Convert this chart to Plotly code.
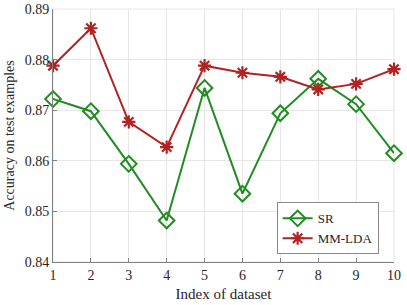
import plotly.graph_objects as go

x_idx = [1, 2, 3, 4, 5, 6, 7, 8, 9, 10]
sr_vals = [0.8722, 0.8698, 0.8594, 0.8482, 0.8744, 0.8535, 0.8694, 0.8762, 0.8712, 0.8615]
mmlda_vals = [0.8788, 0.8862, 0.8677, 0.8627, 0.8788, 0.8774, 0.8766, 0.8741, 0.8752, 0.8781]
y_ticks = [0.84, 0.85, 0.86, 0.87, 0.88, 0.89]

green = "#228B22"
red = "#B22222"
font_family = "Liberation Serif"

fig = go.Figure()
fig.add_trace(go.Scatter(
    x=x_idx, y=sr_vals, mode="lines+markers", name="SR",
    line=dict(color=green, width=2),
    marker=dict(symbol="diamond-open", size=12, color=green, line=dict(width=2, color=green)),
    cliponaxis=False,
))
fig.add_trace(go.Scatter(
    x=x_idx, y=mmlda_vals, mode="lines+markers", name="MM-LDA",
    line=dict(color=red, width=2),
    marker=dict(symbol="asterisk-open", size=11, color=red, line=dict(width=2.2, color=red)),
    cliponaxis=False,
))

fig.update_layout(
    width=407, height=305,
    margin=dict(l=53, r=13, t=9, b=43, autoexpand=False),
    plot_bgcolor="white", paper_bgcolor="white",
    font=dict(family=font_family, size=14, color="#262626"),
    showlegend=True,
    legend=dict(
        x=0.955, y=0.03, xanchor="right", yanchor="bottom",
        bgcolor="white", bordercolor="#888888", borderwidth=1,
        font=dict(family=font_family, size=13, color="#262626"),
        tracegroupgap=0, itemwidth=30,
    ),
)
fig.update_xaxes(
    range=[1, 10], tickvals=x_idx, ticktext=[str(v) for v in x_idx],
    showgrid=True, gridcolor="#e6e6e6", gridwidth=1,
    showline=True, linecolor="#808080", linewidth=1,
    ticks="inside", ticklen=4, tickcolor="#808080",
    zeroline=False, mirror=False, automargin=False,
    title=dict(text="Index of dataset", standoff=6, font=dict(size=15)),
)
fig.update_yaxes(
    range=[0.84, 0.89], tickvals=y_ticks, ticktext=[f"{v:.2f}" for v in y_ticks],
    showgrid=True, gridcolor="#e6e6e6", gridwidth=1,
    showline=True, linecolor="#808080", linewidth=1,
    ticks="inside", ticklen=4, tickcolor="#808080",
    zeroline=False, mirror=False, automargin=False,
    title=dict(text="Accuracy on test examples", standoff=6, font=dict(size=14)),
)
fig.add_shape(type="rect", xref="paper", yref="paper", x0=0, y0=0, x1=1, y1=1,
              line=dict(color="#e6e6e6", width=1), layer="below")

fig.write_html("out.html", config={"displayModeBar": False},
               post_script="document.body.style.margin='0';document.body.style.overflow='hidden';")
